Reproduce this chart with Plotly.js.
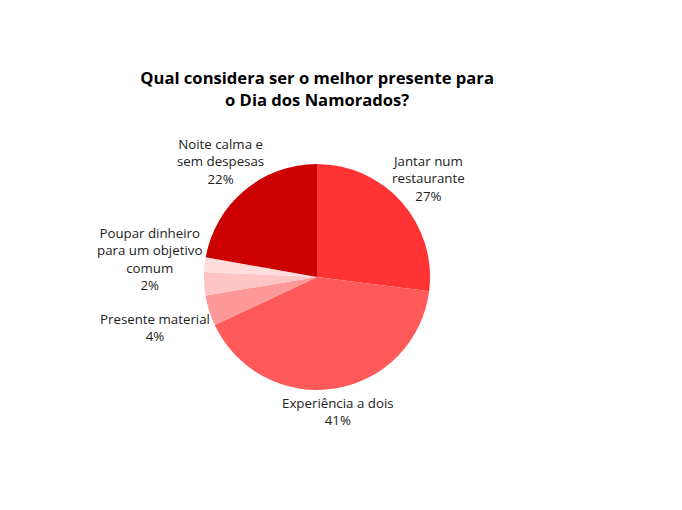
<!DOCTYPE html>
<html>
<head>
<meta charset="utf-8">
<script src="https://cdn.plot.ly/plotly-3.0.1.min.js"></script>
<style>body{margin:0;}#chart{width:682px;height:510px;}</style>
</head>
<body>
<div id="chart"></div>
<script>
// respostas, no sentido dos ponteiros do relógio a partir do topo
let labels = ['Jantar num restaurante', 'Experiência a dois', 'Presente material', 'Outro', 'Poupar dinheiro para um objetivo comum', 'Noite calma e sem despesas'];
let labelLines = [['Jantar num', 'restaurante'], ['Experiência a dois'], ['Presente material'], [], ['Poupar dinheiro', 'para um objetivo', 'comum'], ['Noite calma e', 'sem despesas']];
let values = [27, 41, 4.4, 3.3, 2.1, 22.2];
let colors = ['#ff3333', '#ff5959', '#ff9999', '#ffc4c4', '#ffdddd', '#cc0000'];

let W = 682, H = 510;
let margin = { l: 80, r: 128, t: 164, b: 120 };

let pie = {
    type: 'pie',
    labels: labels,
    values: values,
    sort: false,
    direction: 'clockwise',
    rotation: 0,
    marker: { colors: colors },
    textinfo: 'none',
    hoverinfo: 'label+percent',
    showlegend: false
};

// rótulos centrados na direção do meio de cada fatia
let plotW = W - margin.l - margin.r;
let plotH = H - margin.t - margin.b;
let cx = margin.l + plotW / 2;
let cy = margin.t + plotH / 2;
let radius = Math.min(plotW, plotH) / 2;
let total = values.reduce((a, b) => a + b, 0);

let annotations = [];
let acc = 0;
for (let i = 0; i < values.length; ++i) {
    let mid = (acc + values[i] / 2) / total * 2 * Math.PI;
    acc += values[i];
    if (labelLines[i].length == 0) continue;
    let pct = Math.round(values[i] / total * 100) + '%';
    let lines = labelLines[i].concat([pct]);
    let w = Math.max(...lines.map(s => s.length)) * 6.4;
    let h = lines.length * 17.5;
    let sx = Math.sin(mid), cyDir = Math.cos(mid);
    let d = radius + 4 + Math.sqrt(Math.pow(w / 2 * sx, 2) + Math.pow(h / 2 * cyDir, 2));
    let px = cx + d * sx;
    let py = cy - d * cyDir;
    annotations.push({
        xref: 'paper',
        yref: 'paper',
        x: (px - margin.l) / plotW,
        y: (H - margin.b - py) / plotH,
        xanchor: 'center',
        yanchor: 'middle',
        align: 'center',
        text: lines.join('<br>'),
        font: { size: 13.3, color: '#222' },
        showarrow: false
    });
}

let layout = {
    width: W,
    height: H,
    font: { family: '"Open Sans", sans-serif', size: 13, color: '#222' },
    title: {
        text: '<b>Qual considera ser o melhor presente para<br>o Dia dos Namorados?</b>',
        font: { size: 16.6, color: '#000' },
        x: 0.465,
        xanchor: 'center',
        y: 0.835
    },
    margin: margin,
    annotations: annotations,
    paper_bgcolor: '#fff'
};

Plotly.newPlot('chart', [pie], layout, { displayModeBar: false });
</script>
</body>
</html>
